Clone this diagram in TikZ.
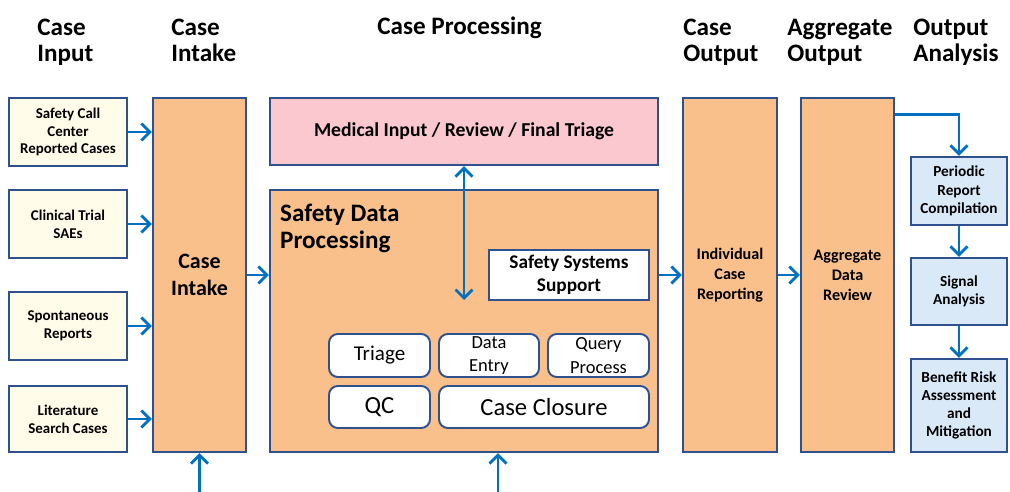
\documentclass[tikz,border=0pt]{standalone}
\usepackage{fontspec}
\setmainfont{Carlito}
\usetikzlibrary{arrows.meta,positioning}

\definecolor{boxline}{RGB}{47,82,143}
\definecolor{flow}{RGB}{0,112,192}
\definecolor{orangefill}{RGB}{250,192,140}
\definecolor{pinkfill}{RGB}{250,200,206}
\definecolor{creamfill}{RGB}{255,252,234}
\definecolor{bluefill}{RGB}{218,233,248}

\tikzset{
	>={Straight Barb[length=1.7mm,width=3.4mm]},
	% box from its left, top, right and bottom edge
	spot/.style n args={4}{at={({(#1+#3)/2},{(#2+#4)/2})},
		minimum width={(#3-#1)*0.02cm}, minimum height={(#4-#2)*0.02cm}},
	stage/.style={draw=boxline, line width=1.3pt, inner sep=0pt, align=center},
	inbox/.style={stage, fill=creamfill, font=\bfseries\fontsize{8.5}{10.2}\selectfont},
	bigbox/.style={stage, fill=orangefill, font=\bfseries\fontsize{9.2}{11.3}\selectfont},
	outbox/.style={stage, fill=bluefill, font=\bfseries\fontsize{8.7}{10.4}\selectfont},
	task/.style={stage, fill=white, rounded corners=5pt, line width=1.1pt, font=\fontsize{12}{14}\selectfont},
	head/.style={anchor=base west, align=left, inner sep=0pt, font=\bfseries\fontsize{14.3}{15.3}\selectfont},
	flowline/.style={draw=flow, line width=1.6pt, ->},
}

\begin{document}
\begin{tikzpicture}[x=0.02cm, y=-0.02cm]
	\useasboundingbox (0,0) rectangle (1010,492);
	
	% column headings
	\node[head] (hinput) at (37,62) {Case\\Input};
	\node[head] (hintake) at (171,62) {Case\\Intake};
	\node[head] (hproc) at (377,35) {Case Processing};
	\node[head] (houtput) at (683,62) {Case\\Output};
	\node[head] (haggr) at (787,62) {Aggregate\\Output};
	\node[head] (hanalysis) at (913,62) {Output\\Analysis};
	
	% case sources
	\node[inbox, spot={9}{98}{127}{166}] (call) {Safety Call\\Center\\Reported Cases};
	\node[inbox, spot={9}{190}{127}{258}] (trial) {Clinical Trial\\SAEs};
	\node[inbox, spot={9}{292}{127}{360}] (spont) {Spontaneous\\Reports};
	\node[inbox, spot={9}{386}{127}{452}] (lit) {Literature\\Search Cases};
	
	% intake
	\node[bigbox, spot={153}{98}{246}{452}, font=\bfseries\fontsize{12.5}{15}\selectfont] (intake) {Case\\Intake};
	
	% processing
	\node[stage, fill=pinkfill, spot={270}{98}{658}{165}, font=\bfseries\fontsize{11.2}{13}\selectfont] (medical) {Medical Input / Review / Final Triage};
	\node[stage, fill=orangefill, spot={270}{190}{658}{452}] (sdp) {};
	\node[anchor=north west, align=left, inner sep=0pt, font=\bfseries\fontsize{14.3}{15.5}\selectfont]
		(sdptitle) at ([shift={(0.22cm,-0.3cm)}]sdp.north west) {Safety Data\\Processing};
	\node[stage, fill=white, spot={489}{250}{649}{300}, font=\bfseries\fontsize{11}{13}\selectfont] (support) {Safety Systems\\Support};
	\coordinate (supportmid) at (464,300);
	
	\node[task, spot={329}{334}{430}{377}] (triage) {Triage};
	\node[task, spot={439}{334}{539}{377}, font=\fontsize{10.5}{13.5}\selectfont] (entry) {Data\\Entry};
	\node[task, spot={548}{334}{649}{377}, font=\fontsize{10.5}{13.5}\selectfont] (query) {Query\\Process};
	\node[task, spot={329}{386}{430}{428}, font=\fontsize{14}{16}\selectfont] (qc) {QC};
	\node[task, spot={439}{386}{649}{428}, font=\fontsize{14}{16}\selectfont] (closure) {Case Closure};
	
	% output columns
	\node[bigbox, spot={683}{98}{777}{452}] (output) {Individual\\Case\\Reporting};
	\node[bigbox, spot={801}{98}{894}{452}] (aggr) {Aggregate\\Data\\Review};
	
	% analysis
	\node[outbox, spot={911}{157}{1007}{225}] (periodic) {Periodic\\Report\\Compilation};
	\node[outbox, spot={911}{258}{1007}{325}] (signal) {Signal\\Analysis};
	\node[outbox, spot={911}{359}{1007}{452}] (benefit) {Benefit Risk\\Assessment\\and\\Mitigation};
	
	% flow
	\foreach \src in {call,trial,spont,lit}
	\draw[flowline] (\src) -- (\src -| intake.west);
	\draw[flowline] (intake) -- (intake -| sdp.west);
	\draw[flowline, <->] (medical) -- (supportmid);
	\draw[flowline] (output -| sdp.east) -- (output);
	\draw[flowline] (output) -- (aggr);
	\draw[flowline] ([yshift=-0.36cm]aggr.north east) -| (periodic);
	\draw[flowline] (periodic) -- (signal);
	\draw[flowline] (signal) -- (benefit);
	
	% feeds from below
	\coordinate (feedA) at (199.5,492);
	\coordinate (feedB) at (498,492);
	\draw[flowline] (feedA) -- (feedA |- intake.south);
	\draw[flowline] (feedB) -- (feedB |- sdp.south);
\end{tikzpicture}
\end{document}
